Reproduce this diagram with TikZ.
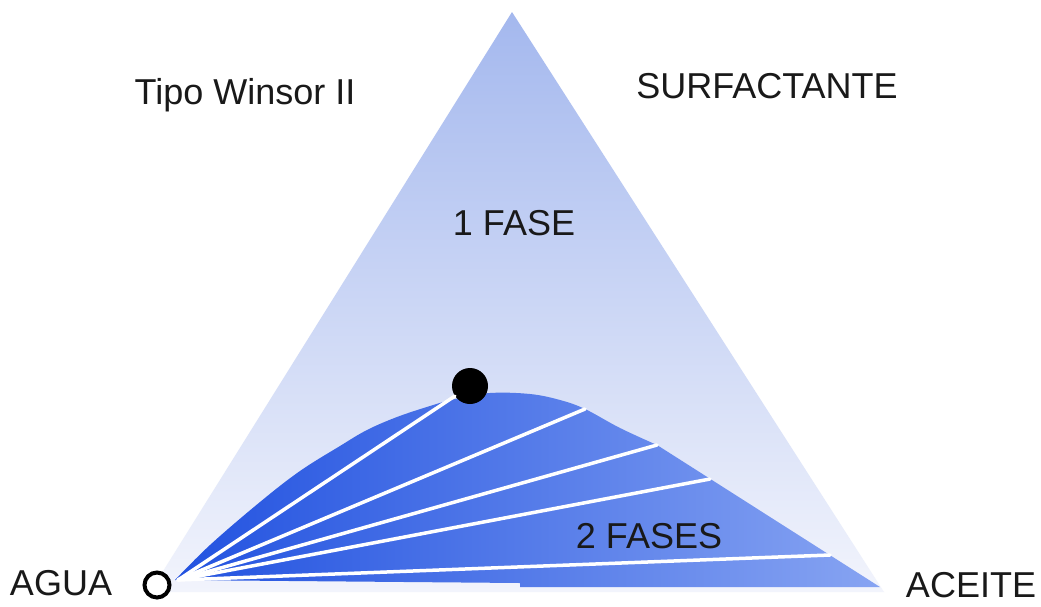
\documentclass[tikz,border=0pt]{standalone}
\usepackage{fontspec}
\setmainfont{Liberation Sans}
\definecolor{triTop}{RGB}{164,184,238}
\definecolor{triMid}{RGB}{202,212,243}
\definecolor{triBot}{RGB}{242,244,252}
\definecolor{twoL}{RGB}{34,82,224}
\definecolor{twoR}{RGB}{135,164,242}
\begin{document}
\begin{tikzpicture}[x=1pt,y=-1pt,
  lbl/.style={font=\fontsize{36}{40}\selectfont, anchor=base, inner sep=0pt, text=black!90},
  tie/.style={white, line width=3.5pt, line cap=round}]
\useasboundingbox (0,0) rectangle (1041,606);
\fill[white] (0,0) rectangle (1041,606);
% ternary triangle
\shade[top color=triTop, middle color=triMid, bottom color=triBot]
  (512,12) -- (150,592) -- (884,592) -- cycle;
% two-phase region
\shade[left color=twoL, right color=twoR]
  plot[smooth, tension=0.6] coordinates {(175,580) (210,545) (260,502) (300,471) (340,446) (367,430) (397,417) (430,406) (455,399) (490,393) (530,394) (560,400) (585,409) (620,428) (657,445)}
  -- (880,587) -- (520,587) -- (520,583) -- cycle;
% points
\coordinate (o) at (178,580);
\coordinate (t2) at (585,409);
\coordinate (t3) at (657,445);
\coordinate (t4) at (710,479);
\coordinate (t5) at (830,555);
\node[circle, fill=black, minimum size=36pt, inner sep=0pt] (crit) at (470,386) {};
\draw[tie] (o) -- (crit);
\draw[tie] (o) -- (t2);
\draw[tie] (o) -- (t3);
\draw[tie] (o) -- (t4);
\draw[tie] (o) -- (t5);
\node[circle, draw=black, fill=white, line width=4pt, minimum size=25pt, inner sep=0pt] (agua pt) at (157,585) {};
% labels
\node[lbl] (tipo) at (245,104) {Tipo Winsor II};
\node[lbl] (surf) at (767,98) {SURFACTANTE};
\node[lbl] (uno) at (514,235) {1 FASE};
\node[lbl] (dos) at (649,548) {2 FASES};
\node[lbl] (agua) at (61,595) {AGUA};
\node[lbl] (aceite) at (971,597) {ACEITE};
\end{tikzpicture}
\end{document}
